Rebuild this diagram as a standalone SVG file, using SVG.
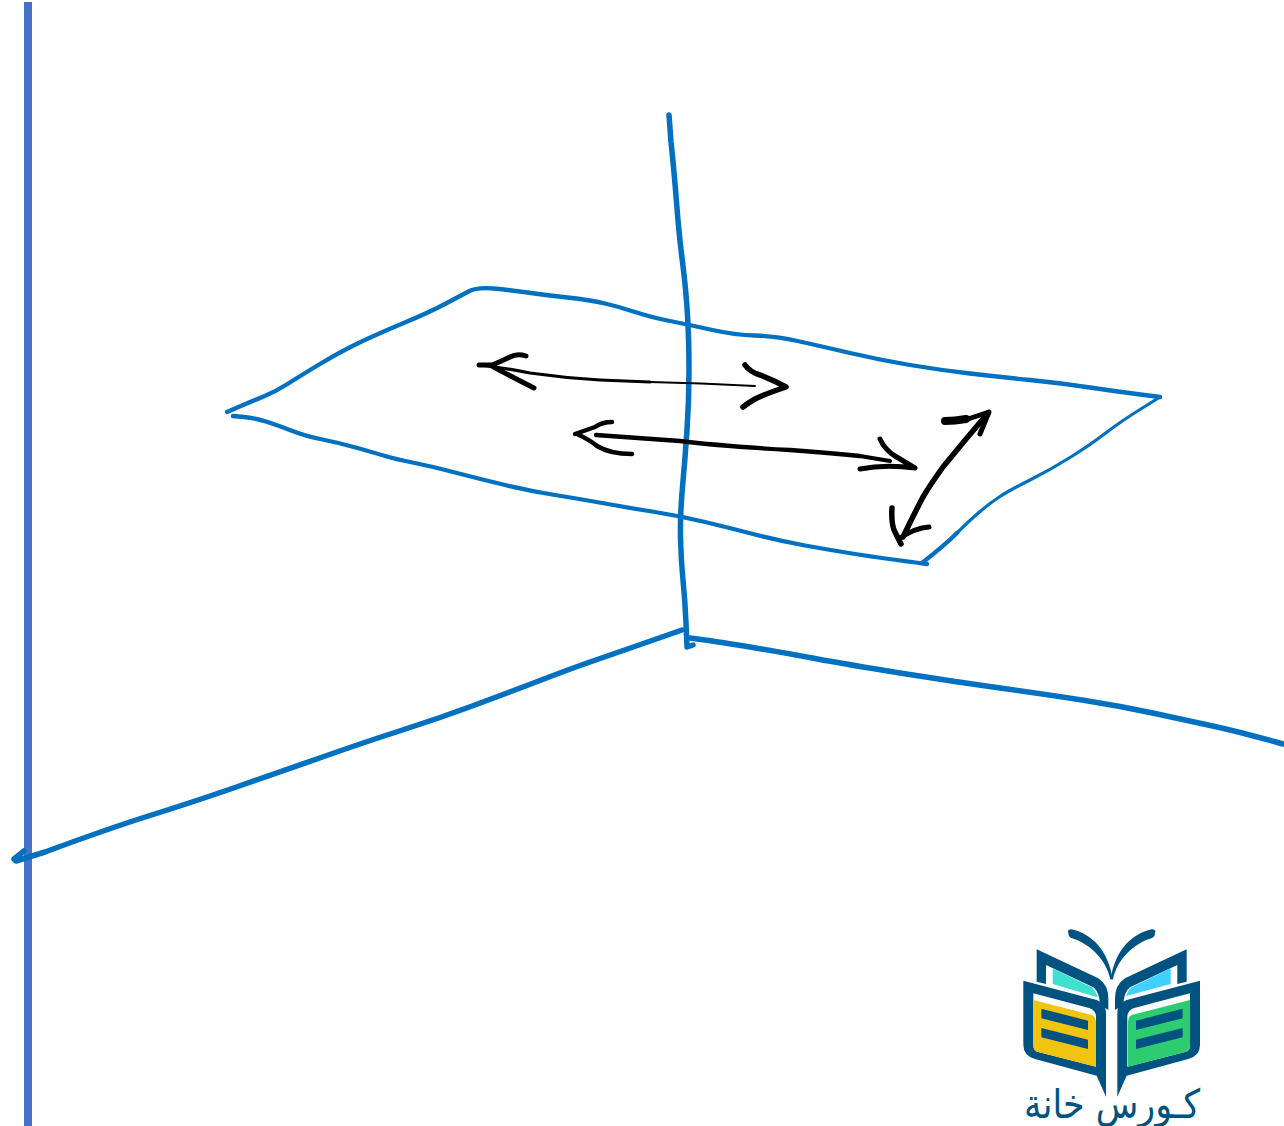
<svg xmlns="http://www.w3.org/2000/svg" width="1284" height="1126" viewBox="0 0 1284 1126">
<style>
.b{fill:none;stroke:#0070c0;stroke-linecap:round;stroke-linejoin:round}
.k{fill:none;stroke:#000;stroke-linecap:round;stroke-linejoin:round}
.n{fill:#005280}
</style>
<rect width="1284" height="1126" fill="#fff"/>
<g id="wall-edge"><rect x="24" y="2" width="8" height="1124" fill="#4472c4"/></g>
<g id="plane">
<path class="b" stroke-width="4.300" d="M227,412 L238.500,407 Q250,402 262.500,397 Q275,392 287.500,384 Q300,376 320,364 Q340,352 357.500,343.500 Q375,335 402.500,323.500 Q430,312 445,304 Q460,296 468.500,291.500 Q477,287 493.500,288.500 Q510,290 527.500,292.500 Q545,295 567.500,297.500 Q590,300 605,303.500 Q620,307 635,312 Q650,317 670,321 Q690,325 712.500,330 Q735,335 755,335.500 Q775,336 797.500,341 Q820,346 850,353 Q880,360 910,365 Q940,370 970,373.500 Q1000,377 1030,380 Q1060,383 1090,387.500 Q1120,392 1160,397"/>
<path class="b" stroke-width="3.200" d="M1160,397 L1140,409.500 Q1120,422 1105,433.500 Q1090,445 1070,457.500 Q1050,470 1030,480 Q1010,490 1000,496.500 Q990,503 980,511.500 Q970,520 957.500,532.500"/>
<path class="b" stroke-width="4.300" d="M957.500,532.500 Q945,545 922,563"/>
<path class="b" stroke-width="4.300" d="M233,416 L244,417 Q255,418 267.500,422 Q280,426 292.500,431 Q305,436 322.500,439.500 Q340,443 357.500,448 Q375,453 385,456 Q395,459 412.500,462.500 Q430,466 455,472.500 Q480,479 505,485 Q530,491 555,495 Q580,499 605,503.500 Q630,508 655,512 Q680,516 705,522 Q730,528 755,534.500 Q780,541 805,545.500 Q830,550 855,554 Q880,558 927,564"/>
</g>
<g id="axes">
<path class="b" stroke-width="5.500" d="M669,115 L671,142 Q674,170 676.500,202 Q679,235 682.500,262 Q686,290 687.500,315 Q689,340 689,370 Q689,400 687,430 Q685,460 682.500,487 Q680,515 680.500,537 Q681,560 683,580 Q685,600 686,623 L687,647 L693,645"/>
<path class="b" stroke-width="5.500" d="M24,851 L14,859 L16,861 L45,852 Q110,828 150,815.500 Q190,803 235,787.500 Q280,772 322.500,757 Q365,742 402.500,730 Q440,718 475,705 Q510,692 540,680.500 Q570,669 590,662 Q610,655 627.500,649 Q645,643 682,630"/>
<path class="b" stroke-width="5.500" d="M690,638 L705,640 Q720,642 750,647 Q780,652 815,658.500 Q850,665 900,673 Q950,681 1000,688 Q1050,695 1085,700.500 Q1120,706 1155,713.500 Q1190,721 1215,726.500 Q1240,732 1283,744"/>
</g>
<g id="arrows">
<path class="k" stroke-width="3.200" d="M480,365 Q505,368 530,373 Q565,378 600,380 L650,382"/>
<path class="k" stroke-width="1.800" d="M650,382 Q700,383 755,386"/>
<path class="k" stroke-width="5" d="M526,356 Q517,353 510,357 Q500,362 492,365 L479,365 M492,366 Q510,376 534,388"/>
<path class="k" stroke-width="5.500" d="M745,365 Q750,372 760,375 Q775,381 786,387 Q765,394 755,399 Q748,403 743,407"/>
<path class="k" stroke-width="4.300" d="M596,435 Q640,438 680,441 Q720,446 790,450 Q830,453 860,456 L890,461"/>
<path class="k" stroke-width="4.500" d="M612,422 Q602,422 595,427 L575,434 M577,434 Q590,440 597,446 Q610,454 632,454"/>
<path class="k" stroke-width="5" d="M880,439 Q885,450 895,456 L915,468 Q885,464 860,469"/>
<path class="k" stroke-width="5.500" d="M988,413 Q965,440 943,467 Q930,485 923,497 Q912,518 903,537"/>
<path class="k" stroke-width="8" d="M945,421 Q955,421 966,419"/>
<path class="k" stroke-width="5" d="M965,420 L989,412 L980,434"/>
<path class="k" stroke-width="5.500" d="M892,508 Q891,525 895,532 L901,544"/>
<path class="k" stroke-width="5" d="M900,538 Q915,528 929,527"/>
</g>
<defs>
<g id="half">
<path class="n" d="M205,70Q200,58 215,58C275,72 325,120 338,208L331,208C320,150 270,100 212,83Q205,80 205,70Z"/>
<path class="n" d="M110,118L295,205Q325,225 325,265L325,300L300,285Q298,245 280,232L138,165V222L110,215Z"/>
<path class="n" d="M70,212L290,270Q318,280 318,310L318,560L290,497L105,447Q70,437 70,405Z"/>
<path fill="#fff" d="M100,250L270,295Q288,303 288,320L288,470L112,425Q100,422 100,405Z"/>
</g>
</defs>
<g id="logo" transform="translate(1000 910) scale(.33333)">
<use href="#half"/>
<use href="#half" transform="translate(670 0) scale(-1 1)"/>
<path fill="#40e0d0" d="M158,175L275,232Q290,245 292,262L158,222Z"/>
<path fill="#40d0ff" d="M512,175L395,232Q385,240 378,258L512,222Z"/>
<path fill="#f1c40f" d="M100,270L275,315Q288,320 288,335L288,470L112,425Q100,422 100,405Z"/>
<path fill="#2ecc71" d="M570,270L395,315Q384,320 384,335L384,470L558,425Q570,422 570,405Z"/>
<path class="n" d="M124,296L264,332V360L124,325ZM124,354L264,389V417L124,382Z"/>
<path class="n" d="M548,296L408,332V360L548,325ZM548,354L408,389V417L548,382Z"/>
</g>
<text id="logo-text" x="1112" y="1118" text-anchor="middle" font-family="'DejaVu Sans',sans-serif" font-size="40" fill="#005280" direction="rtl" textLength="176" lengthAdjust="spacingAndGlyphs">كـورس خانة</text>
</svg>
